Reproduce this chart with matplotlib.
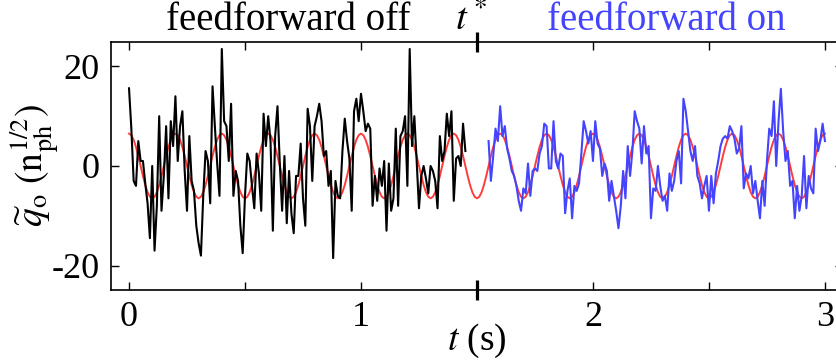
import matplotlib
matplotlib.use("Agg")
import matplotlib.pyplot as plt
import numpy as np

plt.rcParams.update({
    "font.family": "Liberation Serif",
    "mathtext.fontset": "stix",
    "font.size": 26,
    "axes.unicode_minus": False,
})

# measured quadrature, feedforward off (0.00 ... 1.45 s, 10 ms steps)
q_off = [
    15.6, 7.5, -3.0, -4.0, 5.0, 1.0, 1.0, -3.5, -7.5, -14.5,
    0.0, -17.0, -8.0, 10.0, -9.0, -2.0, 8.0, -6.5, 9.0, 4.0,
    14.0, 1.0, 8.0, 11.0, -1.0, -9.0, 6.0, -3.0, -5.0, -12.0,
    -15.5, -18.0, -6.0, 3.0, 1.0, -7.5, 16.0, 8.0, 0.5, -6.0,
    23.5, 9.0, 8.0, 1.0, 12.5, -6.0, -1.0, -3.0, -12.0, -17.5,
    -6.0, 2.5, 1.0, -4.0, -8.5, 2.5, -1.5, -9.0, 10.5, 4.0,
    10.0, 5.0, -13.0, 6.0, 12.0, 0.5, -9.0, 2.0, -11.5, -1.0,
    -9.5, -13.5, -2.0, -2.0, 4.5, -6.5, -12.0, 11.5, 8.0, -3.0,
    8.0, 10.0, 12.5, 9.0, 2.0, 3.0, -4.0, -1.0, -18.5, -3.0,
    -6.0, -6.5, 3.0, 9.5, 5.0, 1.5, -9.0, 11.0, 13.5, 9.0,
    14.5, 11.0, 7.0, 8.5, 7.5, -8.0, -2.0, -7.0, -0.5, -4.0,
    1.0, -13.0, 0.5, -9.0, -6.5, 7.5, -8.0, 6.0, 7.0, 10.0,
    -4.0, 23.5, 4.0, 10.0, 1.0, -8.5, -2.0, 0.0, -2.5, -5.5,
    0.0, -1.0, -3.0, -8.5, 6.0, 1.0, 3.0, 10.5, 6.0, 11.0,
    -7.0, 1.5, 2.0, 0.0, 8.5, 3.0,
]

# measured quadrature, feedforward on (1.55 ... 3.00 s, 10 ms steps)
q_on = [
    5.0, -3.0, 2.0, 7.5, 5.0, 12.0, 6.0, 8.0, 3.5, 1.5,
    -1.0, -2.0, -4.0, -7.0, -9.0, -4.5, -5.5, 0.5, -6.0, -1.0,
    -0.5, -1.0, 2.5, 4.0, 8.5, 8.0, -0.5, -0.5, 9.0, 1.0,
    -0.5, 2.5, 2.0, -9.5, -5.0, -2.5, -10.5, -4.0, -5.0, -3.5,
    2.5, 9.0, 7.0, 4.5, 7.0, 1.0, 9.0, 4.5, 3.5, -2.0,
    0.5, -1.0, -7.0, -3.0, -6.0, -9.0, -12.5, -8.0, -1.0, -6.5,
    4.0, -2.0, 3.0, 11.0, 9.0, 7.5, 0.5, 8.0, 2.5, 4.0,
    -10.5, -4.5, -5.0, 0.0, -4.0, -7.0, -6.0, -9.0, -1.5, -5.0,
    -3.0, 1.0, 3.0, -3.5, 13.5, 11.0, 7.0, 3.0, 1.0, 4.0,
    -2.0, -3.5, -6.5, -4.0, -2.0, -9.0, -2.0, -7.5, -1.5, 1.0,
    4.0, 5.5, 6.0, 5.5, 8.0, 7.0, 5.5, 2.5, 3.5, 8.0,
    -4.5, -1.5, -2.5, 0.0, -5.5, -3.0, -7.0, -10.5, -3.0, -8.0,
    1.0, 7.5, 6.0, 13.0, 0.0, 9.0, 15.5, 7.0, 1.0, 3.0,
    -4.0, -3.0, -10.5, -4.0, -9.0, -6.0, 2.0, -8.5, -2.0, -4.5,
    -5.5, 7.5, 3.0, 5.0, 8.5, 5.0,
]

# applied reference modulation (0.00 ... 3.00 s, 10 ms steps)
q_ref = [
    6.50, 6.18, 5.26, 3.82, 2.01, 0.00, -2.01, -3.82, -5.26, -6.18, -6.50, -6.18, -5.26, -3.82, -2.01, 0.00, 2.01, 3.82, 5.26, 6.18,
    6.50, 6.18, 5.26, 3.82, 2.01, 0.00, -2.01, -3.82, -5.26, -6.18, -6.50, -6.18, -5.26, -3.82, -2.01, 0.00, 2.01, 3.82, 5.26, 6.18,
    6.50, 6.18, 5.26, 3.82, 2.01, 0.00, -2.01, -3.82, -5.26, -6.18, -6.50, -6.18, -5.26, -3.82, -2.01, 0.00, 2.01, 3.82, 5.26, 6.18,
    6.50, 6.18, 5.26, 3.82, 2.01, 0.00, -2.01, -3.82, -5.26, -6.18, -6.50, -6.18, -5.26, -3.82, -2.01, 0.00, 2.01, 3.82, 5.26, 6.18,
    6.50, 6.18, 5.26, 3.82, 2.01, 0.00, -2.01, -3.82, -5.26, -6.18, -6.50, -6.18, -5.26, -3.82, -2.01, 0.00, 2.01, 3.82, 5.26, 6.18,
    6.50, 6.18, 5.26, 3.82, 2.01, 0.00, -2.01, -3.82, -5.26, -6.18, -6.50, -6.18, -5.26, -3.82, -2.01, 0.00, 2.01, 3.82, 5.26, 6.18,
    6.50, 6.18, 5.26, 3.82, 2.01, 0.00, -2.01, -3.82, -5.26, -6.18, -6.50, -6.18, -5.26, -3.82, -2.01, 0.00, 2.01, 3.82, 5.26, 6.18,
    6.50, 6.18, 5.26, 3.82, 2.01, 0.00, -2.01, -3.82, -5.26, -6.18, -6.50, -6.18, -5.26, -3.82, -2.01, 0.00, 2.01, 3.82, 5.26, 6.18,
    6.50, 6.18, 5.26, 3.82, 2.01, 0.00, -2.01, -3.82, -5.26, -6.18, -6.50, -6.18, -5.26, -3.82, -2.01, 0.00, 2.01, 3.82, 5.26, 6.18,
    6.50, 6.18, 5.26, 3.82, 2.01, 0.00, -2.01, -3.82, -5.26, -6.18, -6.50, -6.18, -5.26, -3.82, -2.01, 0.00, 2.01, 3.82, 5.26, 6.18,
    6.50, 6.18, 5.26, 3.82, 2.01, 0.00, -2.01, -3.82, -5.26, -6.18, -6.50, -6.18, -5.26, -3.82, -2.01, 0.00, 2.01, 3.82, 5.26, 6.18,
    6.50, 6.18, 5.26, 3.82, 2.01, 0.00, -2.01, -3.82, -5.26, -6.18, -6.50, -6.18, -5.26, -3.82, -2.01, 0.00, 2.01, 3.82, 5.26, 6.18,
    6.50, 6.18, 5.26, 3.82, 2.01, 0.00, -2.01, -3.82, -5.26, -6.18, -6.50, -6.18, -5.26, -3.82, -2.01, 0.00, 2.01, 3.82, 5.26, 6.18,
    6.50, 6.18, 5.26, 3.82, 2.01, 0.00, -2.01, -3.82, -5.26, -6.18, -6.50, -6.18, -5.26, -3.82, -2.01, 0.00, 2.01, 3.82, 5.26, 6.18,
    6.50, 6.18, 5.26, 3.82, 2.01, 0.00, -2.01, -3.82, -5.26, -6.18, -6.50, -6.18, -5.26, -3.82, -2.01, 0.00, 2.01, 3.82, 5.26, 6.18,
    6.50,
]

t_off = np.linspace(0.0, 1.45, len(q_off))
t_on = np.linspace(1.55, 3.0, len(q_on))
t_ref = np.linspace(0.0, 3.0, len(q_ref))
t_star = 1.5

x_ticks = [0, 0.5, 1, 2, 2.5, 3]
x_ticklabels = ["0", "", "1", "2", "", "3"]
y_ticks = [-20, 0, 20]

fig = plt.figure(figsize=(8.36, 3.62), dpi=100)
ax = fig.add_axes([0.1328, 0.199, 0.8756, 0.685])

ax.plot(t_ref, q_ref, color="#ff3c3c", lw=1.4, zorder=2)
ax.plot(t_off, q_off, color="black", lw=1.5, zorder=3)
ax.plot(t_on, q_on, color="#4444ff", lw=1.5, zorder=3)

ax.set_xlim(-0.0776, 3.078)
ax.set_ylim(-24.9, 24.9)

ax.set_xticks(x_ticks)
ax.set_xticklabels(x_ticklabels)
ax.set_xticks([t_star], minor=True)
ax.set_yticks(y_ticks)
ax.tick_params(which="major", direction="in", length=5.5, width=1.0,
               top=True, right=True, pad=8)
ax.tick_params(axis="x", which="minor", direction="inout", length=15, width=2.3,
               top=True, bottom=True)
for s in ax.spines.values():
    s.set_linewidth(1.2)

ax.set_xlabel("$t$ (s)", labelpad=-9, fontsize=27)
fig.text(35 / 836, 1 - 165 / 362,
         r"$\widetilde{q}_{\mathrm{o}}\ (\mathrm{n}_{\mathrm{ph}}^{1/2})$",
         rotation=90, ha="center", va="center", fontsize=27)

ax.text(0.685, 1.05, "feedforward off", transform=ax.get_xaxis_transform(),
        ha="center", va="baseline", color="black", fontsize=28)
ax.text(2.315, 1.05, "feedforward on", transform=ax.get_xaxis_transform(),
        ha="center", va="baseline", color="#4444ff", fontsize=28)
ax.text(1.475, 1.05, "$t^*$", transform=ax.get_xaxis_transform(),
        ha="center", va="baseline", color="black", fontsize=28)

fig.savefig("out.png", dpi=100)
